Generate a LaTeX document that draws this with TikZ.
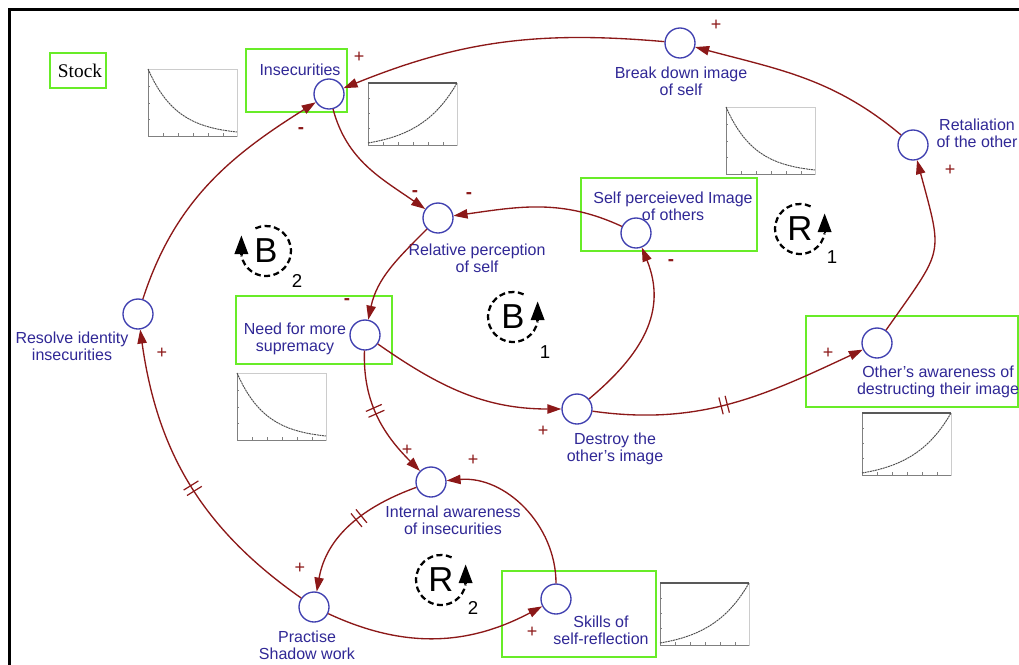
\documentclass[tikz,border=0pt]{standalone}
\usepackage{fontspec}
\setmainfont{Liberation Sans}
\newfontfamily\stockfont{Liberation Serif}
\usetikzlibrary{arrows.meta,decorations.markings}

\definecolor{linkred}{RGB}{140,24,24}
\definecolor{varline}{RGB}{64,64,176}
\definecolor{vartext}{RGB}{48,40,150}
\definecolor{stockgreen}{RGB}{104,236,40}

\tikzset{
	var/.style={circle, draw=varline, line width=1pt, minimum size=22.5pt, inner sep=0pt},
	varlbl/.style={text=vartext, font=\fontsize{12}{12.75}\selectfont, align=center, inner sep=0pt},
	stockbox/.style={draw=stockgreen, line width=2.2pt},
	link/.style={draw=linkred, line width=1pt, -{Triangle[length=10.5pt,width=7pt]}},
	pol/.style={text=linkred, font=\fontsize{13.5}{13.5}\selectfont, inner sep=0pt},
	neg/.style={pol, font=\bfseries\fontsize{14}{14}\selectfont},
	delay/.style={postaction={decorate, decoration={markings, mark=at position #1 with {\draw[-, linkred, line width=0.9pt] (-2.4pt,-6.5pt) -- (-2.4pt,6.5pt) (2.4pt,-6.5pt) -- (2.4pt,6.5pt);}}}},
	looplbl/.style={font=\fontsize{26}{26}\selectfont, inner sep=0pt},
	loopnum/.style={font=\fontsize{14}{14}\selectfont, inner sep=0pt},
	loopring/.style={dash pattern=on 4.5pt off 2.6pt, line width=1.7pt},
	looptip/.style={-{Triangle[length=14pt,width=10pt]}, line width=1.7pt},
	graphframe/.style={draw=gray!40, line width=0.6pt},
	graphaxis/.style={draw=gray, line width=0.6pt},
	graphcurve/.style={draw=black!70, line width=0.7pt, dash pattern=on 1.5pt off 0.5pt},
	decay/.pic={
		\draw[graphframe] (0,0) rectangle (89,67);
		\draw[graphaxis] (0,0) -- (0,67) -- (89,67);
		\foreach \t in {15,30,45,60,75} \draw[graphaxis] (\t,67) -- (\t,64);
		\foreach \t in {17,34,50} \draw[graphaxis] (0,\t) -- (2,\t);
		\draw[graphcurve, domain=0:89, samples=30] plot (\x,{63*(1-exp(-\x/29))/(1-exp(-89/29))});
	},
	growth/.pic={
		\draw[graphframe] (0,0) rectangle (89,62);
		\draw[graphaxis] (0,0) -- (0,62) -- (89,62);
		\draw[black!65, line width=1.3pt] (0,0) -- (89,0);
		\foreach \t in {15,30,45,60,75} \draw[graphaxis] (\t,62) -- (\t,59);
		\foreach \t in {15,30,45} \draw[graphaxis] (0,\t) -- (2,\t);
		\draw[graphcurve, domain=0:89, samples=30] plot (\x,{60-60*(exp(\x/38)-1)/(exp(89/38)-1)});
	},
	loopcw/.pic={
		\draw[loopring] (115:18.75pt) arc[start angle=115, end angle=-170, radius=18.75pt];
		\draw[looptip] (190:18.75pt) -- ++(0,15pt);
	},
	loopccw/.pic={
		\draw[loopring] (65:18.75pt) arc[start angle=65, end angle=350, radius=18.75pt];
		\draw[looptip] (-10:18.75pt) -- ++(0,15pt);
	}
}

\begin{document}
\begin{tikzpicture}[x=0.75pt, y=-0.75pt]
	\useasboundingbox (0,0) rectangle (1019,664);
	\clip (0,0) rectangle (1019,664);
	\fill[white] (0,0) rectangle (1019,664);
	\draw[line width=2pt] (9.5,9.5) rectangle (1040,690);

	\draw[stockbox] (50,53) rectangle (106,88);
	\node[font=\stockfont\fontsize{14.5}{14.5}\selectfont, inner sep=0pt] (stock) at (80,71) {Stock};

	\draw[stockbox] (246,49) rectangle (347,112);
	\draw[stockbox] (581,178) rectangle (757,251);
	\draw[stockbox] (236,296) rectangle (392,364);
	\draw[stockbox] (806,316) rectangle (1018,407);
	\draw[stockbox] (502,571) rectangle (656,657);

	\pic (g1) at (148,69) {decay};
	\pic (g2) at (368,83) {growth};
	\pic (g3) at (726,107) {decay};
	\pic (g4) at (237,373) {decay};
	\pic (g5) at (862,413) {growth};
	\pic (g6) at (660,583) {growth};

	\node[var] (ins) at (329,94) {};
	\node[var] (brk) at (680,43) {};
	\node[var] (ret) at (913,145) {};
	\node[var] (spi) at (636,233) {};
	\node[var] (rel) at (438,218) {};
	\node[var] (need) at (365,335) {};
	\node[var] (res) at (138,314) {};
	\node[var] (des) at (577,409) {};
	\node[var] (oth) at (877,343) {};
	\node[var] (inta) at (431,482) {};
	\node[var] (prac) at (314,607) {};
	\node[var] (skl) at (556,599) {};

	\node[varlbl] (ins-l) at (300,70) {Insecurities};
	\node[varlbl] (brk-l) at (681,81) {Break down image\\of self};
	\node[varlbl] (ret-l) at (977,133) {Retaliation\\of the other};
	\node[varlbl] (spi-l) at (673,206) {Self perceieved Image\\of others};
	\node[varlbl] (rel-l) at (477,258) {Relative perception\\of self};
	\node[varlbl] (need-l) at (295,339) {Need for more\\supremacy};
	\node[varlbl] (res-l) at (72,346) {Resolve identity\\insecurities};
	\node[varlbl] (des-l) at (615,449) {Destroy the\\other's image};
	\node[varlbl] (oth-l) at (938,382) {Other's awareness of\\destructing their image};
	\node[varlbl] (inta-l) at (453,520) {Internal awareness\\of insecurities};
	\node[varlbl] (prac-l) at (307,645) {Practise\\Shadow work};
	\node[varlbl] (skl-l) at (601,630) {Skills of\\self-reflection};

	\draw[link] (ret) to[out=140,in=-15] (brk);
	\draw[link] (brk) to[out=175,in=22] (ins);
	\draw[link] (oth) to[out=55,in=-75, looseness=1.5] (ret);
	\draw[link, delay=0.47] (des) to[out=-8,in=205] (oth);
	\draw[link] (des) to[out=40,in=-68, looseness=1.1] (spi);
	\draw[link] (spi) to[out=155,in=8] (rel);
	\draw[link] (ins) to[out=-75,in=145] (rel);
	\draw[link] (rel) to[out=-135,in=78] (need);
	\draw[link] (need) to[out=-35,in=180] (des);
	\draw[link, delay=0.45] (need) to[out=-92,in=135] (inta);
	\draw[link] (skl) to[out=90,in=5] (inta);
	\draw[link, delay=0.43] (inta) to[out=200,in=80] (prac);
	\draw[link] (prac) to[out=-25,in=208] (skl);
	\draw[link, delay=0.48] (prac) to[out=145,in=-82] (res);
	\draw[link] (res) to[out=72,in=212] (ins);

	\node[pol] (p1) at (359,57) {+};
	\node[neg] (p2) at (301,131) {-};
	\node[neg] (p3) at (415,194) {-};
	\node[neg] (p4) at (469,196) {-};
	\node[neg] (p5) at (347,302) {-};
	\node[neg] (p6) at (671,263) {-};
	\node[pol] (p7) at (716,25) {+};
	\node[pol] (p8) at (950,170) {+};
	\node[pol] (p9) at (828,353) {+};
	\node[pol] (p10) at (543,431) {+};
	\node[pol] (p11) at (407,450) {+};
	\node[pol] (p12) at (473,460) {+};
	\node[pol] (p13) at (300,568) {+};
	\node[pol] (p14) at (532,632) {+};
	\node[pol] (p15) at (162,353) {+};

	\node[looplbl] (b2) at (266,251) {B};
	\pic at (b2.center) {loopcw};
	\node[loopnum] (b2n) at (297,281) {2};
	\node[looplbl] (b1) at (513,317) {B};
	\pic at (b1.center) {loopccw};
	\node[loopnum] (b1n) at (545,352) {1};
	\node[looplbl] (r1) at (800,229) {R};
	\pic at (r1.center) {loopccw};
	\node[loopnum] (r1n) at (832,257) {1};
	\node[looplbl] (r2) at (441,580) {R};
	\pic at (r2.center) {loopccw};
	\node[loopnum] (r2n) at (473,608) {2};
\end{tikzpicture}
\end{document}
